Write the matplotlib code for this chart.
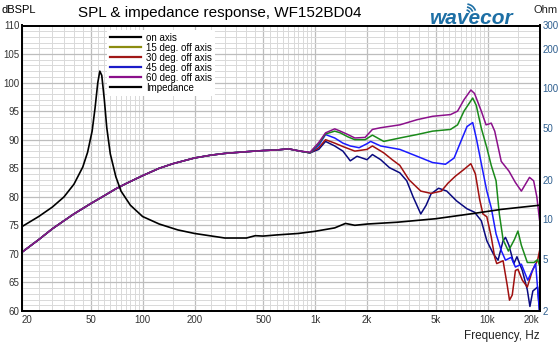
import matplotlib
matplotlib.use("Agg")
import matplotlib.pyplot as plt
from matplotlib.lines import Line2D
from matplotlib.patches import Arc
from matplotlib.ticker import NullLocator, FixedLocator

plt.rcParams['font.family'] = ['Liberation Sans', 'DejaVu Sans']

# shared low-frequency part (all curves overlap below ~700 Hz)
freq_low = [20, 25, 30, 35, 40, 50, 60, 70, 80, 100, 125, 150, 200, 250, 300, 400, 500, 600, 700]
spl_low = [70.3, 72.5, 74.4, 75.8, 77.0, 78.8, 80.2, 81.4, 82.3, 83.7, 85.0, 85.8, 86.8, 87.3, 87.6, 87.9, 88.1, 88.2, 88.4]

purple_f = [818, 935, 1050, 1150, 1300, 1400, 1550, 1700, 1950, 2150, 2400, 3100, 3900, 4800, 6100, 6700,
            7300, 8000, 8400, 9200, 9800, 10500, 11000, 12000, 13300, 14500, 15700, 17500, 18500, 19300, 20000]
purple_db = [88.0, 87.8, 89.5, 91.2, 91.9, 91.5, 90.9, 90.3, 90.4, 91.8, 92.1, 92.6, 93.5, 94.1, 94.4, 95.0,
             97.0, 98.7, 98.1, 95.0, 92.6, 92.9, 91.5, 86.2, 84.5, 82.5, 81.0, 83.4, 82.8, 80.0, 76.0]

green_f = [818, 935, 1050, 1150, 1300, 1400, 1550, 1700, 1950, 2150, 2500, 3100, 3900, 4800, 6100, 6700, 7300,
           8200, 8600, 9200, 9900, 10500, 11200, 11700, 12300, 13200, 14300, 15000, 15700, 17000, 18600, 19500, 20000]
green_db = [88.0, 87.7, 89.3, 91.0, 91.5, 91.2, 90.5, 90.0, 90.0, 90.8, 89.7, 90.3, 90.9, 91.5, 91.8, 92.6, 95.0,
            97.3, 96.0, 92.0, 88.6, 85.5, 82.8, 77.0, 72.5, 70.5, 72.5, 74.0, 71.5, 68.5, 68.5, 69.0, 68.0]

blue_f = [818, 935, 1050, 1150, 1300, 1450, 1600, 1800, 2000, 2100, 2400, 3100, 3900, 4800, 5700, 6400, 7000,
          7600, 8200, 8600, 9300, 9900, 10500, 11200, 12000, 12700, 13700, 14500, 15700, 17100, 18200, 19000,
          19800, 20000]
blue_db = [88.0, 87.7, 89.0, 90.9, 90.3, 89.4, 88.9, 88.6, 89.3, 89.7, 88.9, 88.3, 87.1, 86.0, 85.7, 86.8, 89.7,
           92.3, 93.0, 90.3, 85.1, 81.0, 78.1, 73.5, 70.6, 68.9, 69.4, 67.7, 68.2, 65.4, 67.1, 68.3, 61.4, 60.0]

darkred_f = [818, 935, 1050, 1150, 1300, 1450, 1700, 2000, 2150, 2500, 2800, 3100, 3500, 4100, 4700, 5400, 5900,
             6500, 7300, 8000, 8500, 9000, 9400, 9900, 10500, 11000, 11300, 12300, 13000, 13400, 13900, 14500,
             15000, 15900, 17000, 18200, 19500, 20000]
darkred_db = [88.0, 87.7, 88.6, 90.0, 89.4, 88.8, 88.0, 88.3, 88.9, 87.7, 86.5, 85.5, 83.0, 81.0, 80.6, 81.0, 82.4,
              83.6, 84.8, 85.8, 84.0, 79.5, 77.0, 76.5, 73.0, 69.4, 68.3, 68.8, 64.5, 61.9, 62.8, 67.1,
              67.3, 65.4, 64.2, 67.1, 68.9, 70.5]

navy_f = [818, 935, 1050, 1150, 1300, 1450, 1600, 1750, 2000, 2150, 2400, 2700, 3100, 3400, 3700, 4100, 4400,
          4700, 5200, 5800, 6600, 7600, 8400, 9200, 9900, 10800, 11500, 12300, 12700, 13300, 14200, 14800, 15900,
          17000, 17600, 18300, 19500, 20000]
navy_db = [88.0, 87.7, 88.3, 89.7, 88.9, 88.0, 86.3, 87.1, 86.5, 87.4, 86.5, 85.1, 84.2, 82.8, 80.0, 77.0, 78.5,
           80.5, 81.5, 81.0, 79.3, 77.9, 77.3, 75.8, 72.3, 70.0, 68.9, 72.3, 72.9, 71.5, 68.3, 69.5, 67.1,
           63.7, 60.8, 63.5, 64.2, 60.0]

# impedance, ohm
imp_f = [20, 25, 30, 35, 40, 45, 48, 51, 53, 55, 56.5, 58, 60, 62, 65, 70, 75, 85, 100, 125, 160, 200, 300, 400,
         450, 500, 600, 800, 1000, 1300, 1500, 1700, 2000, 3000, 5000, 8000, 12000, 20000]
imp_ohm = [8.8, 10.5, 12.4, 14.8, 18.5, 25.0, 32.4, 47.0, 70.0, 110.0, 134.6, 125.0, 82.0, 50.0, 31.5, 21.1, 16.4,
           12.8, 10.5, 9.2, 8.3, 7.8, 7.2, 7.2, 7.5, 7.45, 7.6, 7.8, 8.1, 8.6, 9.3, 9.0, 9.2, 9.5, 10.1, 11.0,
           11.9, 12.8]

legend_names = ["on axis", "15 deg. off axis", "30 deg. off axis", "45 deg. off axis", "60 deg. off axis", "Impedance"]
legend_colors = ["#000000", "#8c8c10", "#a01818", "#1c1cc8", "#8b108b", "#000000"]

x_ticks = [20, 50, 100, 200, 500, 1000, 2000, 5000, 10000, 20000]
x_labels = ["20", "50", "100", "200", "500", "1k", "2k", "5k", "10k", "20k"]
ohm_ticks = [2, 5, 10, 20, 50, 100, 200, 300]

fig = plt.figure(figsize=(5.6, 3.45), dpi=100)
ax = fig.add_axes([22 / 560, 34 / 345, 517.5 / 560, 285.5 / 345])

ax.set_xscale('log')
ax.set_xlim(20, 20000)
ax.set_ylim(60, 110)

curves = [(navy_f, navy_db, "#0a0a80"), (darkred_f, darkred_db, "#a01010"), (blue_f, blue_db, "#1a1aff"),
          (green_f, green_db, "#1a8a1a"), (purple_f, purple_db, "#8b108b")]
for f, db, c in curves:
    ax.plot(freq_low + f, spl_low + db, color=c, lw=1.1, zorder=3)

ax2 = ax.twinx()
ax2.set_yscale('log')
ax2.set_ylim(2, 300)
ax2.plot(imp_f, imp_ohm, color='black', lw=1.2)
ax2.yaxis.set_major_locator(FixedLocator(ohm_ticks))
ax2.set_yticklabels([str(t) for t in ohm_ticks])
ax2.yaxis.set_minor_locator(NullLocator())
ax2.tick_params(length=0, labelsize=7, colors='#2f5f8f', pad=2)
for s in ax2.spines.values():
    s.set_linewidth(1.3)

# grid lines every half-step in each decade
minor_x = []
for dec in [10, 100, 1000, 10000]:
    for m in range(2, 20):
        v = dec * m / 2
        if 20 <= v <= 20000 and v not in x_ticks:
            minor_x.append(v)
ax.xaxis.set_major_locator(FixedLocator(x_ticks))
ax.set_xticklabels(x_labels)
ax.xaxis.set_minor_locator(FixedLocator(minor_x))
ax.yaxis.set_major_locator(FixedLocator(list(range(60, 111, 5))))
ax.yaxis.set_minor_locator(FixedLocator(list(range(60, 111, 1))))
ax.tick_params(which='both', length=0, labelsize=7, colors='#333333', pad=3)
ax.tick_params(axis='y', pad=2)
ax.xaxis.set_minor_formatter(plt.NullFormatter())
ax.grid(True, which='major', color='#bdbdbd', lw=0.9)
ax.grid(True, which='minor', color='#d9d9d9', lw=0.7)
labs = ax.get_xticklabels()
labs[0].set_ha('left')
labs[-1].set_ha('right')
for s in ax.spines.values():
    s.set_linewidth(1.3)

handles = [Line2D([], [], color=c, lw=1.6) for c in legend_colors]
leg = ax2.legend(handles, legend_names, loc='upper left', bbox_to_anchor=(0.165, 0.985), fontsize=7,
                 frameon=True, facecolor='white', edgecolor='none', framealpha=1, handlelength=3.2,
                 handletextpad=0.5, labelspacing=0.0, borderpad=0.3, borderaxespad=0)

fig.text(2 / 560, 1 - 10 / 345, "dBSPL", fontsize=8, va='center', ha='left')
fig.text(558 / 560, 1 - 10 / 345, "Ohm", fontsize=8, va='center', ha='right', color='#222222')
fig.text(220 / 560, 1 - 13 / 345, "SPL & impedance response, WF152BD04", fontsize=11, va='center', ha='center')
fig.text(540 / 560, 1 - 336 / 345, "Frequency, Hz", fontsize=8.5, va='center', ha='right', color='#222222')

# logo
fig.text(472 / 560, 1 - 18 / 345, "wavecor", fontsize=15, fontweight='bold', fontstyle='italic',
         color='#1d6fa5', va='center', ha='center')
for r in [4, 7, 10]:
    fig.add_artist(Arc((466 / 560, 1 - 14 / 345), 2 * r / 560, 2 * r / 345, theta1=30, theta2=85,
                       transform=fig.transFigure, color='#1d6fa5', lw=1.2))

fig.savefig("out.png", dpi=100)
